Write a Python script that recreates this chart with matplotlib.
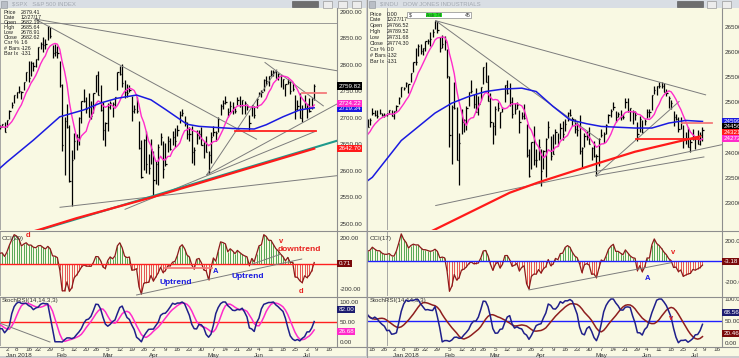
"""
Two chart windows side by side: S&P 500 (left) and Dow Industrials (right),
daily bars with moving averages, trendlines, CCI and StochRSI panels.
"""
import numpy as np
import pandas as pd
import matplotlib
matplotlib.use("Agg")
from matplotlib import pyplot as plt
from matplotlib.patches import Rectangle
from matplotlib.lines import Line2D
from matplotlib.transforms import blended_transform_factory

plt.rcParams["font.family"] = ["Liberation Sans", "DejaVu Sans"]

HOLIDAYS = ["2017-11-23", "2017-12-25", "2018-01-01", "2018-01-15",
            "2018-02-19", "2018-03-30", "2018-05-28", "2018-07-04"]

# ---- S&P 500 daily bars, 2017-11-01 .. 2018-07-06 ----
spx_high = [
    2588, 2581, 2588, 2593, 2597, 2595, 2592, 2586, 2587, 2580, 2572, 2590, 2583, 2584, 2601, 2600, 2605, 2606, 2628, 2634, 2657,
    2650, 2665, 2648, 2636, 2640, 2652, 2661, 2669, 2672, 2669, 2680, 2694, 2695, 2692, 2693, 2686, 2682, 2686, 2688, 2692,
    2696, 2715, 2730, 2744, 2749, 2760, 2751, 2768, 2787, 2808, 2808, 2806, 2810, 2833, 2843, 2853, 2848, 2873, 2871, 2838, 2840,
    2835, 2808, 2763, 2702, 2727, 2686, 2639, 2672, 2669, 2702, 2731, 2755, 2739, 2747, 2731, 2747, 2780, 2789, 2761,
    2730, 2692, 2728, 2732, 2730, 2740, 2787, 2797, 2802, 2772, 2764, 2762, 2741, 2724, 2739, 2695, 2658, 2660, 2675, 2632, 2660,
    2638, 2619, 2650, 2672, 2656, 2653, 2666, 2662, 2675, 2680, 2686, 2713, 2717, 2703, 2693, 2683, 2684, 2645, 2677, 2677, 2682,
    2655, 2665, 2637, 2673, 2684, 2676, 2701, 2726, 2733, 2742, 2719, 2731, 2729, 2719, 2739, 2742, 2734, 2731, 2727, 2706, 2725, 2722,
    2737, 2748, 2752, 2773, 2779, 2779, 2790, 2790, 2791, 2785, 2780, 2774, 2764, 2774, 2769, 2765, 2743, 2733, 2747, 2725, 2743,
    2727, 2737, 2737, 2764,
]
spx_low = [
    2574, 2566, 2576, 2583, 2584, 2585, 2566, 2576, 2576, 2567, 2558, 2573, 2576, 2577, 2587, 2594, 2599, 2598, 2604, 2620, 2633,
    2606, 2639, 2627, 2625, 2626, 2640, 2651, 2659, 2662, 2651, 2658, 2686, 2679, 2676, 2683, 2679, 2677, 2679, 2682, 2673,
    2682, 2698, 2719, 2728, 2737, 2747, 2736, 2752, 2770, 2768, 2779, 2789, 2795, 2809, 2830, 2825, 2830, 2847, 2851, 2813, 2816,
    2813, 2759, 2638, 2593, 2681, 2580, 2533, 2623, 2639, 2648, 2690, 2729, 2710, 2701, 2697, 2709, 2748, 2744, 2713,
    2659, 2647, 2675, 2716, 2701, 2723, 2753, 2780, 2759, 2737, 2740, 2749, 2694, 2709, 2710, 2641, 2586, 2601, 2596, 2594, 2614,
    2554, 2575, 2574, 2649, 2586, 2610, 2636, 2640, 2648, 2645, 2666, 2691, 2704, 2684, 2660, 2657, 2615, 2612, 2651, 2660, 2648,
    2625, 2635, 2595, 2615, 2665, 2656, 2674, 2705, 2717, 2727, 2701, 2711, 2707, 2709, 2725, 2721, 2707, 2708, 2715, 2676, 2703, 2700,
    2719, 2741, 2740, 2750, 2761, 2760, 2779, 2778, 2775, 2771, 2758, 2755, 2741, 2763, 2745, 2751, 2698, 2714, 2699, 2692, 2718,
    2699, 2711, 2717, 2733,
]
spx_close = [
    2579, 2580, 2588, 2591, 2591, 2594, 2585, 2582, 2585, 2579, 2565, 2586, 2579, 2582, 2599, 2597, 2602, 2601, 2627, 2626, 2648,
    2642, 2639, 2630, 2629, 2637, 2652, 2660, 2664, 2663, 2652, 2676, 2690, 2681, 2679, 2685, 2683, 2681, 2683, 2688, 2674,
    2696, 2713, 2724, 2743, 2748, 2751, 2748, 2768, 2786, 2776, 2803, 2798, 2810, 2833, 2839, 2838, 2839, 2873, 2854, 2822, 2824,
    2822, 2762, 2649, 2695, 2682, 2581, 2620, 2656, 2663, 2699, 2731, 2732, 2716, 2701, 2704, 2747, 2780, 2744, 2714,
    2678, 2691, 2721, 2728, 2727, 2739, 2787, 2783, 2765, 2749, 2747, 2752, 2713, 2717, 2712, 2644, 2588, 2659, 2613, 2605, 2641,
    2582, 2614, 2645, 2663, 2604, 2613, 2657, 2642, 2664, 2656, 2678, 2706, 2709, 2693, 2670, 2670, 2635, 2639, 2667, 2670, 2648,
    2655, 2636, 2630, 2663, 2673, 2672, 2698, 2723, 2728, 2730, 2711, 2722, 2720, 2713, 2733, 2724, 2733, 2728, 2721, 2690, 2724, 2705,
    2735, 2747, 2749, 2772, 2770, 2779, 2782, 2787, 2776, 2782, 2780, 2774, 2763, 2767, 2750, 2755, 2717, 2723, 2700, 2716, 2718,
    2727, 2713, 2737, 2760,
]

# ---- Dow Industrials daily bars, 2017-11-01 .. 2018-07-06 ----
dow_high = [
    23517, 23531, 23557, 23564, 23603, 23578, 23514, 23450, 23444, 23432, 23349, 23485, 23434, 23438, 23608, 23601, 23573, 23638, 23868, 24013, 24328,
    24302, 24534, 24349, 24221, 24264, 24330, 24394, 24552, 24671, 24668, 24691, 24876, 24850, 24850, 24871, 24784, 24777, 24790, 24839, 24850,
    24824, 24942, 25105, 25296, 25311, 25399, 25370, 25575, 25804, 26086, 26154, 26153, 26072, 26215, 26260, 26393, 26459, 26617, 26608, 26288, 26338,
    26307, 26062, 25520, 24946, 25395, 24903, 24382, 24859, 24668, 24924, 25200, 25432, 25172, 25273, 25134, 25310, 25709, 25800, 25538,
    25185, 24608, 24924, 24996, 24814, 24900, 25336, 25449, 25375, 25095, 24979, 24998, 24853, 24812, 24971, 24573, 24078, 24209, 24525, 24081, 24262,
    24076, 24058, 24289, 24623, 24338, 24377, 24475, 24393, 24584, 24630, 24664, 24815, 24858, 24717, 24672, 24616, 24746, 24121, 24396, 24423, 24509,
    24119, 24223, 23968, 24296, 24469, 24412, 24578, 24770, 24868, 25011, 24818, 24809, 24850, 24768, 25087, 25086, 24892, 24844, 24819, 24608, 24722, 24638,
    24670, 24859, 24858, 25147, 25326, 25317, 25403, 25403, 25389, 25254, 25134, 25044, 24822, 24763, 24705, 24713, 24541, 24413, 24505, 24284, 24460,
    24312, 24454, 24415, 24507,
]
dow_low = [
    23405, 23395, 23487, 23500, 23529, 23506, 23300, 23381, 23346, 23318, 23242, 23335, 23354, 23379, 23473, 23514, 23528, 23522, 23609, 23862, 24003,
    23921, 24287, 24157, 24118, 24140, 24246, 24312, 24407, 24565, 24508, 24548, 24746, 24726, 24686, 24764, 24725, 24714, 24732, 24763, 24719,
    24660, 24824, 24968, 25107, 25236, 25300, 25179, 25393, 25591, 25737, 25913, 25967, 25942, 26018, 26156, 26114, 26290, 26458, 26384, 25994, 26079,
    26033, 25490, 24121, 23778, 24869, 23849, 23360, 24377, 24405, 24440, 24922, 25188, 24880, 24797, 24748, 25043, 25369, 25393, 25024,
    24512, 24163, 24349, 24820, 24488, 24810, 25011, 25161, 24935, 24680, 24772, 24860, 24382, 24668, 24676, 23914, 23509, 23667, 23759, 23724, 23862,
    23345, 23681, 23523, 24282, 23850, 23964, 24176, 24129, 24263, 24249, 24429, 24632, 24718, 24528, 24399, 24331, 23963, 23723, 24109, 24249, 24163,
    23863, 23913, 23531, 23737, 24304, 24198, 24366, 24582, 24698, 24848, 24610, 24700, 24654, 24664, 24890, 24810, 24625, 24572, 24653, 24224, 24406, 24386,
    24542, 24683, 24712, 24844, 25155, 25141, 25278, 25280, 25195, 25128, 24888, 24862, 24522, 24655, 24404, 24468, 24085, 24170, 24109, 24005, 24248,
    24077, 24174, 24143, 24233,
]
dow_close = [
    23435, 23516, 23539, 23548, 23557, 23563, 23462, 23422, 23440, 23409, 23271, 23458, 23358, 23430, 23591, 23526, 23558, 23581, 23837, 23941, 24272,
    24232, 24290, 24181, 24141, 24211, 24329, 24386, 24505, 24585, 24509, 24652, 24792, 24755, 24727, 24782, 24754, 24746, 24774, 24838, 24719,
    24824, 24923, 25075, 25296, 25283, 25386, 25369, 25575, 25803, 25793, 26116, 26018, 26072, 26215, 26211, 26252, 26393, 26617, 26439, 26077, 26149,
    26187, 25521, 24346, 24913, 24893, 23860, 24191, 24601, 24640, 24893, 25200, 25219, 24965, 24798, 24962, 25310, 25709, 25410, 25029,
    24609, 24538, 24875, 24884, 24801, 24895, 25336, 25179, 25007, 24758, 24874, 24947, 24611, 24727, 24682, 23958, 23533, 24203, 23858, 23848, 24103,
    23644, 24033, 24264, 24505, 23933, 23979, 24408, 24189, 24483, 24360, 24573, 24787, 24748, 24665, 24463, 24449, 24024, 24084, 24322, 24311, 24163,
    24099, 23925, 23930, 24263, 24357, 24360, 24543, 24740, 24831, 24899, 24706, 24769, 24714, 24715, 25013, 24834, 24887, 24812, 24753, 24361, 24668, 24416,
    24635, 24814, 24800, 25146, 25241, 25317, 25322, 25321, 25201, 25175, 25090, 24987, 24700, 24658, 24462, 24581, 24253, 24283, 24118, 24216, 24271,
    24307, 24175, 24357, 24456,
]

# 50-day (blue) and 200-day (red) averages
spx_ma50_dates = ["2017-12-27", "2018-01-02", "2018-01-18", "2018-02-02", "2018-02-16", "2018-02-28",
                  "2018-03-09", "2018-03-21", "2018-03-29", "2018-04-09", "2018-04-20", "2018-04-27",
                  "2018-05-17", "2018-05-31", "2018-06-07", "2018-06-18", "2018-06-27", "2018-07-06"]
spx_ma50 = [2605, 2617, 2658, 2702, 2715, 2728, 2737, 2743, 2734, 2716, 2688, 2684,
            2680, 2679, 2687, 2702, 2715, 2719]
spx_ma200_dates = ["2017-12-27", "2018-01-23", "2018-02-13", "2018-04-02", "2018-05-17", "2018-07-06"]
spx_ma200 = [2468, 2490, 2511, 2551, 2596, 2642]

dow_ma50_dates = ["2017-12-14", "2017-12-18", "2018-01-05", "2018-01-26", "2018-02-06", "2018-02-15",
                  "2018-02-27", "2018-03-08", "2018-03-20", "2018-03-28", "2018-04-09", "2018-04-18",
                  "2018-04-27", "2018-05-07", "2018-05-25", "2018-06-06", "2018-06-15", "2018-06-26",
                  "2018-07-06"]
dow_ma50 = [23440, 23510, 24240, 24785, 24983, 25114, 25213, 25260, 25280, 25213, 24916, 24652,
            24573, 24520, 24488, 24488, 24587, 24639, 24619]
dow_ma200_dates = ["2017-12-14", "2018-01-26", "2018-03-13", "2018-03-29", "2018-05-04", "2018-05-25", "2018-07-05"]
dow_ma200 = [21840, 22474, 23204, 23411, 23795, 24018, 24322]

# trendlines: (bar0, value0, bar1, value1), bars counted from 2018-01-02
spx_lines = [(11.7, 2886.2, 137.6, 2788.7), (11.7, 2886.2, 104.0, 2659.8), (22.1, 2531.5, 137.6, 2591.1),
             (49.2, 2527.7, 128.3, 2674.2), (83.2, 2592.5, 137.6, 2726.4), (83.2, 2592.5, 112.4, 2790.6),
             (107.5, 2804.3, 131.8, 2722.6)]
spx_teal = (13.75, 2488.7, 137.6, 2657.0)
spx_levels = [(95.0, 128.8, 2675.5, "#FF2020"), (123.0, 133.0, 2746.6, "#F47A7A")]
spx_cursor = 2879.41
spx_cci_lines = [(54.0, -247, 122.8, 35), (102.0, -6, 113.8, 72)]
spx_cci_levels = [(65.8, 85.3, -33)]
spx_stoch_lines = [(-2.9, 47, 17.9, 0)]

dow_lines = [(17.3, 26619, 129.3, 25147), (17.3, 26619, 85.1, 24256), (17.3, 22950, 136.0, 24157),
             (83.7, 23543, 128.6, 23914), (83.7, 23543, 118.3, 25015)]
dow_levels = [(100.3, 126.6, 24270, "#FF2020"), (119.6, 132.0, 24587, "#F47A7A")]
dow_cci_lines = [(56.0, -283.5, 114.8, -13)]

RED, BLUE = "#E8201E", "#1A1AE0"
spx_notes = [("d", 8.9, 223, RED, 5.5), ("v", 114.2, 171, RED, 5.5), ("downtrend", 121.9, 106, RED, 6),
             ("A", 86.7, -64, BLUE, 5.5), ("Uptrend", 70.4, -147, BLUE, 6), ("Uptrend", 100.4, -103, BLUE, 6),
             ("d", 122.5, -221, RED, 5.5)]
dow_notes = [("v", 115.8, 94, RED, 5.5), ("A", 105.1, -165, BLUE, 5.5)]
dow_stoch_notes = [("v", 114.8, 56, RED, 5.5)]

info_labels = ["Price", "Date", "Open", "High", "Low", "Close", "Csr %", "# Bars", "Bar Ix"]
spx_info = ["2879.41", "12/27/17", "2682.19", "2685.64", "2678.91", "2682.62", "1.6", "-126", "-131"]
dow_info = ["0.00", "12/27/17", "24766.52", "24789.52", "24731.68", "24774.30", "0.0", "-132", "-131"]

W, H = 739, 358
BG = "#F9F9E3"
GRID = "#8E8E8E"


def px_axes(fig, x0, y0, x1, y1):
    return fig.add_axes([x0 / W, 1 - y1 / H, (x1 - x0) / W, (y1 - y0) / H])


def px_rect(fig, x0, y0, x1, y1, zorder=-5, **kw):
    fig.add_artist(Rectangle((x0 / W, 1 - y1 / H), (x1 - x0) / W, (y1 - y0) / H,
                             transform=fig.transFigure, zorder=zorder, **kw))


def px_hline(fig, x0, x1, y, **kw):
    fig.add_artist(Line2D([x0 / W, x1 / W], [1 - y / H] * 2, transform=fig.transFigure, **kw))


def trading_days(start, end):
    days = pd.bdate_range(start, end)
    return days[~days.isin(pd.to_datetime(HOLIDAYS))]


def cci(high, low, close, n):
    tp = (high + low + close) / 3
    mad = tp.rolling(n).apply(lambda v: np.abs(v - v.mean()).mean(), raw=True)
    return (tp - tp.rolling(n).mean()) / (0.015 * mad)


def stoch_rsi(close, n_rsi=14, n_st=14, k=3, d=3):
    delta = close.diff()
    gain = delta.clip(lower=0).ewm(alpha=1 / n_rsi, adjust=False, min_periods=n_rsi).mean()
    loss = (-delta.clip(upper=0)).ewm(alpha=1 / n_rsi, adjust=False, min_periods=n_rsi).mean()
    rsi = 100 - 100 / (1 + gain / loss)
    lo = rsi.rolling(n_st, min_periods=5).min()
    hi = rsi.rolling(n_st, min_periods=5).max()
    raw = (rsi - lo) / (hi - lo) * 100
    kk = raw.rolling(k, min_periods=1).mean()
    return kk, kk.rolling(d, min_periods=1).mean()


def style(ax, xlim, ylim, ticks, labels):
    ax.set_facecolor(BG)
    ax.set_xlim(*xlim)
    ax.set_ylim(*ylim)
    ax.set_xticks([])
    ax.yaxis.tick_right()
    ax.set_yticks(ticks)
    ax.set_yticklabels(labels)
    ax.tick_params(axis="y", length=0, pad=2, labelsize=4.5, labelcolor="#333333")
    for s in ("top", "bottom", "left"):
        ax.spines[s].set_visible(False)
    ax.spines["right"].set_color(GRID)
    ax.spines["right"].set_linewidth(0.8)


def value_box(ax, text, y, color, tcolor="white"):
    ax.text(1.004, y, text, transform=blended_transform_factory(ax.transAxes, ax.transData),
            ha="left", va="center", fontsize=4.5, color=tcolor, clip_on=False, zorder=10,
            bbox=dict(boxstyle="square,pad=0.18", fc=color, ec="none"))


def draw_lines(ax, lines, color="#7C7C7C", lw=0.7):
    for a0, v0, a1, v1 in lines:
        ax.plot([a0, a1], [v0, v1], color=color, lw=lw, zorder=4)


def draw_window(fig, w):
    x0, xp, x1 = w["x0"], w["xp"], w["x1"]
    # window chrome
    px_rect(fig, x0, 0, x1, 8, fc="#D9DEE4", ec="none")
    fig.text((x0 + 12) / W, 1 - 4.2 / H, w["title"], fontsize=4.3, color="#A3A9B1", va="center")
    px_rect(fig, x0 + 1, 1, x0 + 7, 7.5, zorder=2, fc="#B9BEC6", ec="#8C9098", lw=0.4)
    bx = w["buttons"]
    px_rect(fig, bx[0], 1.5, bx[0] + 26, 7, zorder=2, fc="#6E6E6E", ec="#505050", lw=0.4)
    for b in bx[1:]:
        px_rect(fig, b, 1, b + 9, 7.5, zorder=2, fc="#ECECEC", ec="#9A9A9A", lw=0.5)
    px_rect(fig, x0, 8, x1, 356, fc=BG, ec="none")
    px_rect(fig, x0, 356, x1, 358, fc="#CDCDCD", ec="none")

    high = pd.Series(w["high"], dtype=float)
    low = pd.Series(w["low"], dtype=float)
    close = pd.Series(w["close"], dtype=float)
    dates = trading_days("2017-11-01", "2018-07-20")
    pos = {d: i for i, d in enumerate(dates)}
    j0 = pos[pd.Timestamp("2018-01-02")]
    n = len(close)
    xs = np.arange(n) - j0

    def bars_of(ds):
        return [pos[pd.Timestamp(d)] - j0 for d in ds]

    # ---- price panel ----
    ax = px_axes(fig, x0, 8, xp, 230)
    style(ax, w["xlim"], w["ylim"], w["yticks"], ["%.2f" % t for t in w["yticks"]])
    ax.vlines(xs, low, high, color="black", lw=0.9, zorder=3)
    ax.hlines(close, xs, xs + 0.5, color="black", lw=0.9, zorder=3)
    ax.plot(xs, close.rolling(8).mean(), color="#FF2BCB", lw=1.0, zorder=5)
    ax.plot(bars_of(w["ma50_dates"]), w["ma50"], color=BLUE, lw=1.1, zorder=5)
    ax.plot(bars_of(w["ma200_dates"]), w["ma200"], color="#FF1A1A", lw=1.6, zorder=5)
    draw_lines(ax, w["lines"])
    if w.get("teal"):
        draw_lines(ax, [w["teal"]], color="#1E9A8C", lw=1.5)
    for a0, a1, v, c in w["levels"]:
        ax.plot([a0, a1], [v, v], color=c, lw=1.3, zorder=6)
    if w.get("cursor"):
        ax.axhline(w["cursor"], color="#8A8A8A", lw=0.6)
    ax.axvline(-3, color="#9A9A9A", lw=0.6)
    for text, y, c in w["main_boxes"]:
        value_box(ax, text, y, c)
    # info box
    for k, (lab, val) in enumerate(zip(info_labels, w["info"])):
        yy = w["info_y"] + k * w["info_dy"]
        fig.text((x0 + w["info_x"][0]) / W, 1 - yy / H, lab, fontsize=3.9, color="#222222", va="center")
        fig.text((x0 + w["info_x"][1]) / W, 1 - yy / H, val, fontsize=3.9, color="#222222", va="center")

    # ---- CCI panel ----
    axc = px_axes(fig, x0, 231, xp, 296)
    style(axc, w["xlim"], w["cci_ylim"], [-200, 0, 200], ["-200.00", "0.00", "200.00"])
    cc = cci(high, low, close, w["cci_n"]).to_numpy()
    ok = ~np.isnan(cc)
    colors = np.where(cc[ok] >= 0, "#3C9A3C", "#E23A3A")
    axc.vlines(xs[ok], 0, cc[ok], colors=colors, lw=0.6, zorder=2)
    axc.plot(xs, cc, color="#8B1A1A", lw=0.9, zorder=3)
    axc.axhline(0, color=w["zero_color"], lw=1.0, zorder=4)
    draw_lines(axc, w["cci_lines"])
    for a0, a1, v in w.get("cci_levels", []):
        axc.plot([a0, a1], [v, v], color="#F47A7A", lw=1.3, zorder=5)
    axc.axvline(-3, color="#9A9A9A", lw=0.6)
    for text, bx_, vy, c, fs in w["cci_notes"]:
        axc.text(bx_, vy, text, color=c, fontsize=fs, fontweight="bold", ha="center", va="center", zorder=8)
    axc.text(0.006, 0.93, w["cci_label"], transform=axc.transAxes, fontsize=4.5, color="#333333", va="top")
    value_box(axc, w["cci_box"], 0, "#7A0A0A")

    # ---- StochRSI panel ----
    axs = px_axes(fig, x0, 297, xp, 346)
    style(axs, w["xlim"], w["st_ylim"], [0, 50, 100], ["0.00", "50.00", "100.00"])
    k, d = stoch_rsi(close, d=w["st_d"])
    axs.axhline(50, color=w["st_mid"], lw=1.0, zorder=2)
    axs.plot(xs, d, color=w["st_dcolor"], lw=1.1, zorder=3)
    axs.plot(xs, k, color="#1F1F8A", lw=1.1, zorder=4)
    draw_lines(axs, w.get("st_lines", []))
    axs.axvline(-3, color="#9A9A9A", lw=0.6)
    for text, bx_, vy, c, fs in w.get("st_notes", []):
        axs.text(bx_, vy, text, color=c, fontsize=fs, fontweight="bold", ha="center", va="center", zorder=8)
    axs.text(0.006, 0.97, "StochRSI(14,14,3,3)", transform=axs.transAxes, fontsize=4.5, color="#333333", va="top")
    for text, y, c in w["st_boxes"]:
        value_box(axs, text, y, c)

    # ---- date axis: first trading day of each week ----
    tr = blended_transform_factory(axs.transData, fig.transFigure)
    for i in range(1, len(dates)):
        dt, prev = dates[i], dates[i - 1]
        bar = i - j0
        if dt.weekday() >= prev.weekday() or not (w["xlim"][0] < bar < w["xlim"][1]):
            continue
        axs.text(bar, 1 - 349.8 / H, str(dt.day), transform=tr, fontsize=4.5, color="#333333",
                 ha="center", va="center", clip_on=False)
        if dt.day <= 7:
            name = dt.strftime("%b") + (" 2018" if dt.month == 1 else "")
            axs.text(bar - (0.3 if dt.month == 1 else 0), 1 - 355.2 / H, name, transform=tr, fontsize=4.5,
                     color="#333333", ha="left" if dt.month == 1 else "center", va="center", clip_on=False)

    # panel separators
    for y in (230.5, 296.5, 346.5):
        px_hline(fig, x0, x1, y, color=GRID, lw=0.8)
    return axs


fig = plt.figure(figsize=(W / 100, H / 100), dpi=100, facecolor="#D2D2D2")

left = dict(
    x0=0, xp=337, x1=366, title="$SPX   S&P 500 INDEX", buttons=[292, 323, 338, 352],
    high=spx_high, low=spx_low, close=spx_close,
    xlim=(-2.9, 137.5), ylim=(2488.7, 2907), yticks=list(range(2500, 2901, 50)),
    ma50_dates=spx_ma50_dates, ma50=spx_ma50, ma200_dates=spx_ma200_dates, ma200=spx_ma200,
    lines=spx_lines, teal=spx_teal, levels=spx_levels, cursor=spx_cursor,
    main_boxes=[("2759.82", 2759.82, "black"), ("2719.34", 2717, BLUE), ("2724.22", 2726.5, "#FF2BCB"),
                ("2642.70", 2642.7, "#FF1A1A")],
    info=spx_info, info_x=(3.5, 21), info_y=12.3, info_dy=5.1,
    cci_n=20, cci_ylim=(-255, 255), zero_color="#FF2020", cci_lines=spx_cci_lines,
    cci_levels=spx_cci_levels, cci_notes=spx_notes, cci_label="CCI(20)", cci_box="0.71",
    st_ylim=(-10, 112.5), st_d=5, st_mid="#FF2020", st_dcolor="#FF2BCB", st_lines=spx_stoch_lines,
    st_boxes=[("82.00", 82, "#1C1C70"), ("26.68", 26.68, "#FF2BCB")],
)
right = dict(
    x0=368, xp=722, x1=739, title="$INDU   DOW JONES INDUSTRIALS", buttons=[677, 707, 722],
    high=dow_high, low=dow_low, close=dow_close,
    xlim=(-10.8, 136.1), ylim=(22464, 26871), yticks=list(range(23000, 26501, 500)),
    ma50_dates=dow_ma50_dates, ma50=dow_ma50, ma200_dates=dow_ma200_dates, ma200=dow_ma200,
    lines=dow_lines, teal=None, levels=dow_levels, cursor=None,
    main_boxes=[("24599.47", 24625, BLUE), ("24456.48", 24515, "black"), ("24321.50", 24395, "#FF1A1A"),
                ("24272.89", 24280, "#FF2BCB")],
    info=dow_info, info_x=(1.5, 19), info_y=14, info_dy=5.95,
    cci_n=17, cci_ylim=(-344, 304), zero_color="#2020FF", cci_lines=dow_cci_lines,
    cci_notes=dow_notes, cci_label="CCI(17)", cci_box="-3.18",
    st_ylim=(-7.5, 104.6), st_d=10, st_mid="#2020FF", st_dcolor="#8E1E1E",
    st_notes=dow_stoch_notes,
    st_boxes=[("68.56", 68.56, "#1C1C70"), ("20.46", 20.46, "#7A0A0A")],
)

draw_window(fig, left)
draw_window(fig, right)

# slider widget in the right window's corner
px_rect(fig, 407, 12, 471, 18, zorder=5, fc="white", ec="#8A8A8A", lw=0.5)
px_rect(fig, 426, 12.6, 442, 17.4, zorder=6, fc="#22DD22", ec="none")
fig.text(441.5 / W, 1 - 15.2 / H, "Ask 74", fontsize=3.6, color="#225522", va="center", ha="right", zorder=7)
fig.text(409 / W, 1 - 15.2 / H, "$", fontsize=3.8, color="#333333", va="center", zorder=7)
fig.text(465 / W, 1 - 15.2 / H, "45", fontsize=3.8, color="#333333", va="center", zorder=7)
# window borders
fig.add_artist(Line2D([367 / W] * 2, [0, 1], transform=fig.transFigure, color="#9A9A9A", lw=0.8))

fig.savefig("out.png", dpi=100, facecolor=fig.get_facecolor())
